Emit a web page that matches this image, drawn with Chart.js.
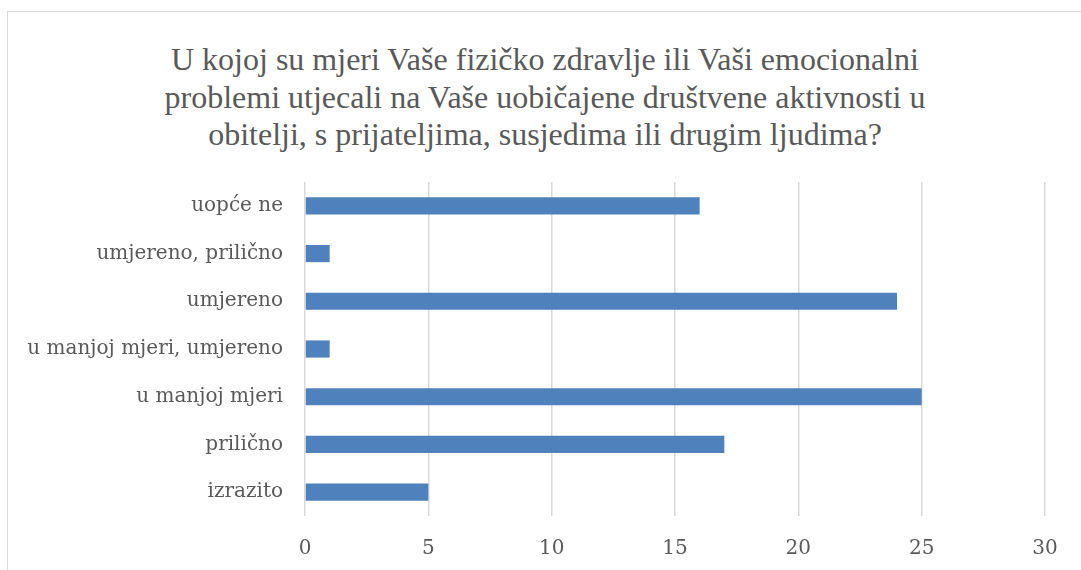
<!DOCTYPE html>
<html>
<head>
<meta charset="utf-8">
<script src="https://cdn.jsdelivr.net/npm/chart.js@4"></script>
<style>
  html, body { margin: 0; padding: 0; background: #fff; }
  #wrap { position: relative; width: 1081px; height: 570px; overflow: hidden; }
  #frame { position: absolute; left: 7px; top: 11px; width: 1200px; height: 700px;
           border-left: 1px solid #d9d9d9; border-top: 1px solid #d9d9d9; }
  #title { position: absolute; left: 145px; width: 800px; top: 41px;
           font: 32px/37.5px 'Liberation Serif', serif; color: #595959; text-align: center; }
  #chart { position: absolute; left: 0; top: 0; }
</style>
</head>
<body>
<div id="wrap">
  <div id="frame"></div>
  <div id="title"></div>
  <canvas id="chart" width="1081" height="570"></canvas>
</div>
<script>
const titleLines = [
    'U kojoj su mjeri Vaše fizičko zdravlje ili Vaši emocionalni',
    'problemi utjecali na Vaše uobičajene društvene aktivnosti u',
    'obitelji, s prijateljima, susjedima ili drugim ljudima?'
];
const categories = [
    'uopće ne',
    'umjereno, prilično',
    'umjereno',
    'u manjoj mjeri, umjereno',
    'u manjoj mjeri',
    'prilično',
    'izrazito'
];
const counts = [16, 1, 24, 1, 25, 17, 5];
const xTicks = [0, 5, 10, 15, 20, 25, 30];

// title as page text, one line each
const titleEl = document.getElementById('title');
titleLines.forEach(line => {
    const d = document.createElement('div');
    d.textContent = line;
    titleEl.appendChild(d);
});

const labelFont = { family: 'DejaVu Serif', size: 20 };
const ctx = document.getElementById('chart').getContext('2d');

new Chart(ctx, {
    type: 'bar',
    data: {
        labels: categories,
        datasets: [{
            data: counts,
            backgroundColor: '#4f81bd',
            categoryPercentage: 1,
            barPercentage: 0.36
        }]
    },
    options: {
        indexAxis: 'y',
        responsive: false,
        animation: false,
        layout: { padding: { left: 0, right: 36, top: 182, bottom: 0 } },
        plugins: {
            legend: { display: false },
            tooltip: { enabled: false },
            title: { display: false }
        },
        scales: {
            x: {
                min: xTicks[0],
                max: xTicks[xTicks.length - 1],
                afterBuildTicks: (scale) => { scale.ticks = xTicks.map(v => ({ value: v })); },
                afterFit: (scale) => { scale.height = 54; },
                border: { display: false },
                grid: { color: '#d9d9d9', lineWidth: 1.5, drawTicks: false },
                ticks: { color: '#595959', font: labelFont, padding: 21 }
            },
            y: {
                afterFit: (scale) => { scale.width = 305; },
                border: { display: false },
                grid: { display: false, drawTicks: false },
                ticks: { color: '#595959', font: labelFont, padding: 22 }
            }
        }
    }
});
</script>
</body>
</html>
